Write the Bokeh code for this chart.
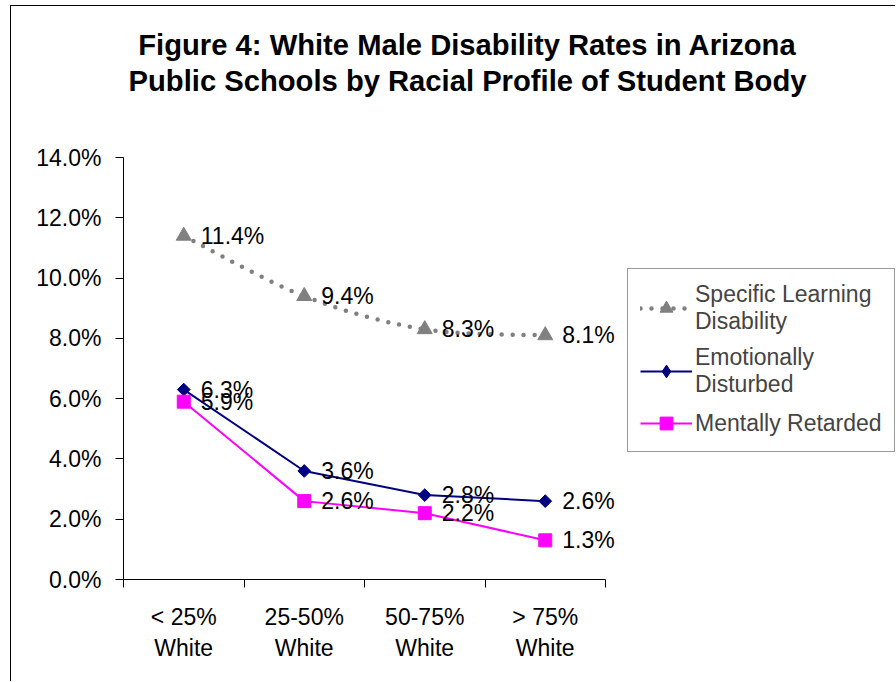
from bokeh.plotting import figure
from bokeh.models import (Label, LabelSet, ColumnDataSource, FixedTicker,
                          PrintfTickFormatter, Legend, LegendItem, Range1d)
from bokeh.core.properties import value
from bokeh.embed import file_html
from bokeh.resources import INLINE
import math

# ---- data ----
categories = ["< 25%\nWhite", "25-50%\nWhite", "50-75%\nWhite", "> 75%\nWhite"]
sld = [11.4, 9.4, 8.3, 8.1]        # Specific Learning Disability
ed = [6.3, 3.6, 2.8, 2.6]          # Emotionally Disturbed
mr = [5.9, 2.6, 2.2, 1.3]          # Mentally Retarded
y_ticks = [0, 2, 4, 6, 8, 10, 12, 14]
title_lines = ["Figure 4: White Male Disability Rates in Arizona",
               "Public Schools by Racial Profile of Student Body"]

FONT = "Liberation Sans"
xs = [i + 0.5 for i in range(len(categories))]
YMAX = 14

# ---- layout (pixels) ----
W, H = 885, 676
LEFT, BOTTOM = 112, 103
AXIS_W, AXIS_H = 482, 422          # pixel length of the drawn axes
frame_w, frame_h = W - LEFT, H - BOTTOM
x_end = len(categories) * frame_w / AXIS_W
y_end = YMAX * frame_h / AXIS_H

p = figure(width=W, height=H, x_range=Range1d(0, x_end),
           y_range=Range1d(0, y_end), output_backend="svg", toolbar_location=None,
           min_border_left=LEFT, min_border_right=0, min_border_top=0,
           min_border_bottom=BOTTOM)
p.styles = {"border-left": "1px solid black", "border-top": "1px solid black",
            "margin-left": "10px", "margin-top": "5px"}
p.xgrid.visible = False
p.ygrid.visible = False
p.outline_line_color = None
p.background_fill_color = "white"
p.border_fill_color = "white"

# axes
p.xaxis.bounds = (0, len(categories))
p.yaxis.bounds = (0, YMAX)
p.xaxis.ticker = FixedTicker(ticks=xs, minor_ticks=list(range(len(categories) + 1)))
p.xaxis.major_label_overrides = {x: c for x, c in zip(xs, categories)}
p.xaxis.major_tick_line_color = None
p.xaxis.minor_tick_line_color = "black"
p.xaxis.minor_tick_out = 8
p.xaxis.minor_tick_in = 0
p.xaxis.major_label_standoff = 16
p.yaxis.ticker = FixedTicker(ticks=y_ticks, minor_ticks=[])
p.yaxis.formatter = PrintfTickFormatter(format="%.1f%%")
p.yaxis.major_tick_out = 8
p.yaxis.major_tick_in = 0
p.yaxis.major_label_standoff = 14
for ax in (p.xaxis, p.yaxis):
    ax.axis_line_color = "black"
    ax.major_label_text_font = FONT
    ax.major_label_text_font_size = "23px"
    ax.major_label_text_color = "black"

# SLD smoothed (Excel style) bezier built from the data points
n = len(xs)
x0s, y0s, x1s, y1s, cx0, cy0, cx1, cy1 = [], [], [], [], [], [], [], []
for i in range(n - 1):
    ip = max(i - 1, 0)
    i2 = min(i + 2, n - 1)
    x0s.append(xs[i]); y0s.append(sld[i])
    x1s.append(xs[i + 1]); y1s.append(sld[i + 1])
    cx0.append(xs[i] + (xs[i + 1] - xs[ip]) / 6)
    cy0.append(sld[i] + (sld[i + 1] - sld[ip]) / 6)
    cx1.append(xs[i + 1] - (xs[i2] - xs[i]) / 6)
    cy1.append(sld[i + 1] - (sld[i2] - sld[i]) / 6)
r_sld_line = p.bezier(x0=x0s, y0=y0s, x1=x1s, y1=y1s, cx0=cx0, cy0=cy0,
                      cx1=cx1, cy1=cy1, line_color="#808080", line_width=4.5,
                      line_dash="0 11", line_cap="round")
r_sld_pts = p.scatter(xs, sld, marker="triangle", size=15, fill_color="#808080",
                      line_color="#808080")

r_ed_line = p.line(xs, ed, line_color="#000080", line_width=2)
r_ed_pts = p.scatter(xs, ed, marker="square", angle=math.pi / 4, size=9,
                     fill_color="#000080", line_color="#000080")
# legend-only proxy (legend markers ignore the rotation angle)
r_ed_key = p.scatter(x=[float("nan")], y=[float("nan")], marker="diamond",
                     fill_color="#000080", line_color="#000080")

r_mr_line = p.line(xs, mr, line_color="#FF00FF", line_width=2)
r_mr_pts = p.scatter(xs, mr, marker="square", size=13, fill_color="#FF00FF",
                     line_color="#FF00FF")

# data labels
for vals in (sld, ed, mr):
    src = ColumnDataSource(dict(x=xs, y=vals, t=["%.1f%%" % v for v in vals]))
    p.add_layout(LabelSet(x="x", y="y", text="t", source=src, x_offset=17,
                          text_baseline="middle", text_font=value(FONT),
                          text_font_size=value("23px"), text_color="black"))

# title (screen units relative to frame bottom-left)
for k, line in enumerate(title_lines):
    p.add_layout(Label(x=344, y=535 - 36 * k, x_units="screen", y_units="screen",
                       text=line, text_align="center", text_baseline="middle",
                       text_font=FONT, text_font_size="29.2px",
                       text_font_style="bold", text_color="black"))

legend = Legend(items=[
    LegendItem(label="Specific Learning\nDisability", renderers=[r_sld_line, r_sld_pts]),
    LegendItem(label="Emotionally\nDisturbed", renderers=[r_ed_line, r_ed_key]),
    LegendItem(label="Mentally Retarded", renderers=[r_mr_line, r_mr_pts]),
], location=(504, 127), label_text_font=FONT, label_text_font_size="23px",
   glyph_width=52, glyph_height=32, label_standoff=3, padding=12, spacing=9,
   margin=0, border_line_color="#333333", border_line_width=1,
   background_fill_color="white", background_fill_alpha=1)
p.add_layout(legend)

open("out.html", "w").write(file_html(p, INLINE))
